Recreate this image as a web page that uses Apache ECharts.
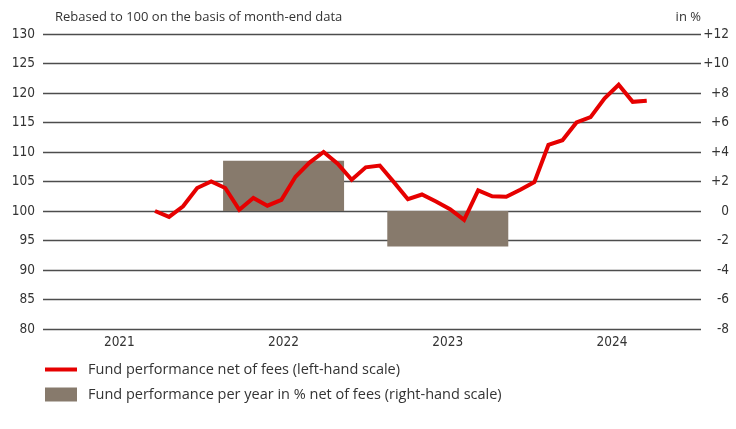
<!DOCTYPE html>
<html>
<head>
<meta charset="utf-8">
<script src="https://cdn.jsdelivr.net/npm/echarts@6/dist/echarts.min.js"></script>
<style>
  html, body { margin: 0; padding: 0; background: #fff; }
  #chart { width: 736px; height: 429px; }
</style>
</head>
<body>
<div id="chart"></div>
<script>
// month-end values of the fund, rebased to 100
var months = [
  '2021-03', '2021-04', '2021-05', '2021-06', '2021-07', '2021-08', '2021-09', '2021-10', '2021-11', '2021-12',
  '2022-01', '2022-02', '2022-03', '2022-04', '2022-05', '2022-06', '2022-07', '2022-08', '2022-09', '2022-10',
  '2022-11', '2022-12', '2023-01', '2023-02', '2023-03', '2023-04', '2023-05', '2023-06', '2023-07', '2023-08',
  '2023-09', '2023-10', '2023-11', '2023-12', '2024-01', '2024-02'
];
var fundValues = [
  100.0, 99.0, 100.8, 103.9, 105.0, 103.9, 100.2, 102.2, 100.9, 101.9,
  105.8, 108.2, 110.0, 108.0, 105.3, 107.4, 107.7, 104.9, 102.0, 102.8,
  101.6, 100.3, 98.5, 103.5, 102.5, 102.4, 103.6, 104.9, 111.2, 112.0,
  115.0, 115.9, 119.1, 121.4, 118.5, 118.7
];

// calendar year performance in %
var years = [2021, 2022, 2023, 2024];
var yearlyPerf = [null, 3.4, -2.4, null];

var lineName = 'Fund performance net of fees (left-hand scale)';
var barName = 'Fund performance per year in % net of fees (right-hand scale)';

var RED = '#e60000';
var TAUPE = '#877a6c';
var GRID_COLOR = '#4d4d4d';
var narrowFont = '"Liberation Sans Narrow", "DejaVu Sans Condensed", sans-serif';
var textFont = '"Open Sans", "Noto Sans", sans-serif';

var barData = [];
for (var i = 0; i < years.length; i++) {
  if (yearlyPerf[i] !== null) barData.push([years[i], yearlyPerf[i]]);
}
var lineData = fundValues.map(function (v, i) { return [i, v]; });

var chart = echarts.init(document.getElementById('chart'), null, { renderer: 'canvas' });

chart.setOption({
  animation: false,
  title: [{
    text: 'Rebased to 100 on the basis of month-end data',
    left: 55, top: 11, padding: 0,
    textStyle: { fontFamily: textFont, fontSize: 13, fontWeight: 'normal', color: '#333' }
  }, {
    text: 'in %',
    right: 35, top: 11, padding: 0,
    textStyle: { fontFamily: textFont, fontSize: 13, fontWeight: 'normal', color: '#333' }
  }],
  legend: {
    orient: 'vertical',
    left: 40, top: 357,
    itemWidth: 32, itemHeight: 14, itemGap: 10,
    selectedMode: false,
    textStyle: { fontFamily: textFont, fontSize: 14.5, color: '#333', padding: [0, 0, 0, 6] },
    data: [
      { name: lineName, icon: 'path://M0,0 M0,5 L32,5 L32,9 L0,9 Z M32,14' },
      { name: barName, icon: 'rect' }
    ]
  },
  grid: { left: 43, right: 35, top: 34, bottom: 100, containLabel: false },
  xAxis: [{
    type: 'value',
    min: 2020.535, max: 2024.542,
    axisLine: { show: false },
    axisTick: { show: false },
    splitLine: { show: false },
    axisLabel: {
      customValues: years,
      formatter: function (v) { return String(v); },
      fontFamily: narrowFont, fontSize: 13.5, color: '#333', margin: 6
    }
  }, {
    type: 'value',
    min: -7.97, max: 38.86,
    show: false
  }],
  yAxis: [{
    type: 'value',
    min: 80, max: 130, interval: 5,
    axisLine: { show: false },
    axisTick: { show: false },
    splitLine: { lineStyle: { color: GRID_COLOR, width: 1.3 } },
    axisLabel: { fontFamily: narrowFont, fontSize: 13.5, color: '#333', margin: 8 }
  }, {
    type: 'value',
    min: -8, max: 12, interval: 2,
    axisLine: { show: false },
    axisTick: { show: false },
    splitLine: { show: false },
    axisLabel: {
      fontFamily: narrowFont, fontSize: 13.5, color: '#333', margin: 28, align: 'right',
      formatter: function (v) { return v > 0 ? '+' + v : String(v); }
    }
  }],
  series: [{
    name: barName,
    type: 'bar',
    xAxisIndex: 0, yAxisIndex: 1,
    barWidth: 121,
    itemStyle: { color: TAUPE },
    data: barData,
    z: 1
  }, {
    name: lineName,
    type: 'line',
    xAxisIndex: 1, yAxisIndex: 0,
    symbol: 'none',
    lineStyle: { color: RED, width: 4, join: 'miter' },
    itemStyle: { color: RED },
    data: lineData,
    z: 3
  }]
});

window.addEventListener('resize', function () { chart.resize(); });
</script>
</body>
</html>
